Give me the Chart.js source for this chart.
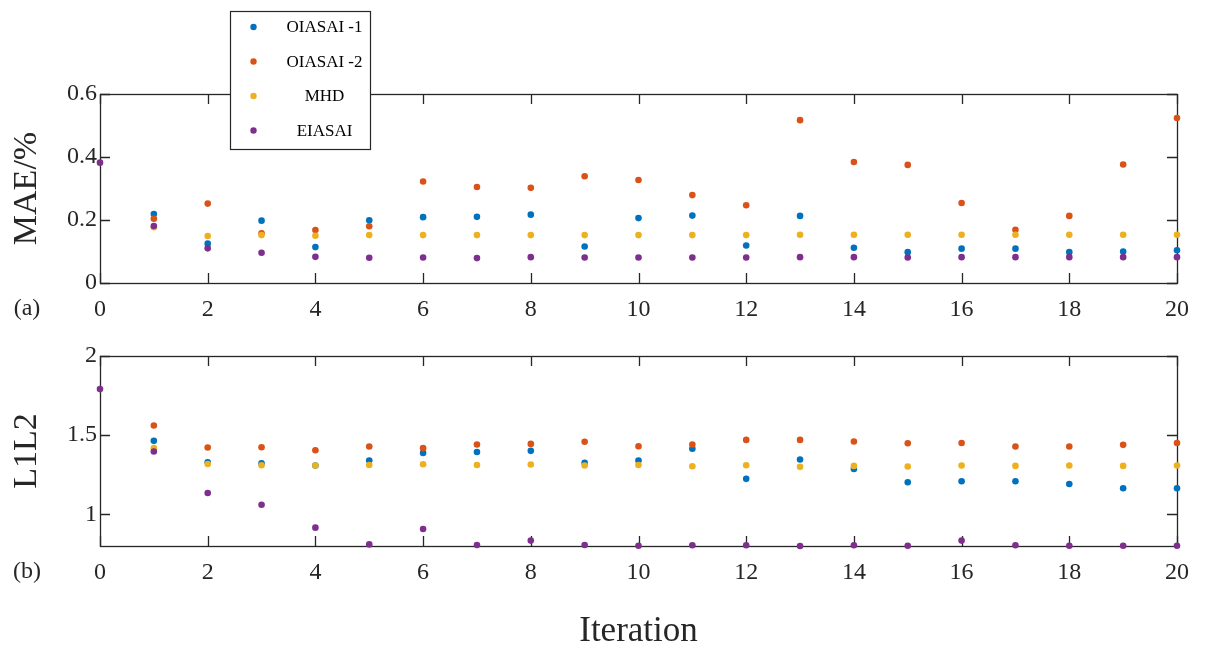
<!DOCTYPE html>
<html>
<head>
<meta charset="utf-8">
<script src="https://cdn.jsdelivr.net/npm/chart.js@4/dist/chart.umd.min.js"></script>
<style>
  html, body { margin: 0; padding: 0; background: #fff; overflow: hidden; }
  #wrap { position: relative; width: 1210px; height: 650px; }
  canvas { position: absolute; left: 0; top: 0; }
</style>
</head>
<body>
<div id="wrap">
  <canvas id="mae" width="1210" height="650"></canvas>
  <canvas id="l1l2" width="1210" height="650"></canvas>
</div>
<script>
// ---- data ----
const iterations = [0, 1, 2, 3, 4, 5, 6, 7, 8, 9, 10, 11, 12, 13, 14, 15, 16, 17, 18, 19, 20];
const seriesNames = ['OIASAI -1', 'OIASAI -2', 'MHD', 'EIASAI'];
const seriesColors = ['#0072BD', '#D95319', '#EDB120', '#7E2F8E'];

// MAE (%) per iteration
const maeOIASAI1 = [null, 0.219, 0.125, 0.198, 0.114, 0.199, 0.209, 0.210, 0.217, 0.116, 0.206, 0.214, 0.119, 0.213, 0.112, 0.098, 0.109, 0.109, 0.098, 0.100, 0.104];
const maeOIASAI2 = [null, 0.204, 0.252, 0.158, 0.168, 0.180, 0.322, 0.305, 0.302, 0.339, 0.327, 0.279, 0.247, 0.517, 0.384, 0.375, 0.254, 0.169, 0.213, 0.376, 0.524];
const maeMHD     = [null, 0.177, 0.149, 0.152, 0.150, 0.152, 0.152, 0.152, 0.152, 0.152, 0.152, 0.152, 0.152, 0.153, 0.153, 0.153, 0.153, 0.153, 0.153, 0.153, 0.153];
const maeEIASAI  = [0.382, 0.181, 0.110, 0.096, 0.083, 0.080, 0.081, 0.079, 0.082, 0.081, 0.081, 0.081, 0.081, 0.082, 0.082, 0.081, 0.082, 0.082, 0.082, 0.082, 0.082];

// L1L2 per iteration
const l1l2OIASAI1 = [null, 1.464, 1.329, 1.323, 1.308, 1.340, 1.388, 1.394, 1.401, 1.325, 1.340, 1.414, 1.224, 1.346, 1.287, 1.203, 1.209, 1.209, 1.192, 1.165, 1.165];
const l1l2OIASAI2 = [null, 1.561, 1.422, 1.424, 1.405, 1.428, 1.418, 1.441, 1.445, 1.458, 1.430, 1.441, 1.470, 1.470, 1.460, 1.449, 1.451, 1.428, 1.428, 1.439, 1.451];
const l1l2MHD     = [null, 1.418, 1.318, 1.310, 1.308, 1.312, 1.316, 1.312, 1.315, 1.308, 1.312, 1.304, 1.310, 1.300, 1.306, 1.302, 1.308, 1.306, 1.308, 1.306, 1.308];
const l1l2EIASAI  = [1.791, 1.397, 1.135, 1.061, 0.916, 0.810, 0.907, 0.806, 0.834, 0.806, 0.802, 0.805, 0.805, 0.800, 0.805, 0.802, 0.834, 0.805, 0.802, 0.802, 0.802];

// tick labels
const xTicks = [0, 2, 4, 6, 8, 10, 12, 14, 16, 18, 20];
const maeTicks = [0, 0.2, 0.4, 0.6];
const l1l2Ticks = [1, 1.5, 2];

// ---- styling ----
const FONT = '"Liberation Serif", "Times New Roman", serif';
const INK = '#262626';
const TICK_LEN = 10;

function makeDatasets(seriesList) {
  return seriesList.map((vals, i) => ({
    label: seriesNames[i],
    data: iterations.map((x, k) => ({ x: x, y: vals[k] })).filter(p => p.y !== null),
    backgroundColor: seriesColors[i],
    borderColor: seriesColors[i],
    pointRadius: 3.3,
    pointHoverRadius: 3.3,
    pointBorderWidth: 0,
    showLine: false,
    clip: false,
    order: seriesList.length - 1 - i
  }));
}

// Box frame with inward ticks on all four sides, drawn beneath the markers
const framePlugin = {
  id: 'frame',
  beforeDatasetsDraw(chart, args, opts) {
    const { ctx, chartArea: a, scales } = chart;
    const xs = scales.x, ys = scales.y;
    ctx.save();
    ctx.strokeStyle = INK;
    ctx.lineWidth = 1.3;
    ctx.beginPath();
    for (const t of xs.ticks) {
      const px = Math.round(xs.getPixelForValue(t.value)) + 0.5;
      ctx.moveTo(px, a.bottom); ctx.lineTo(px, a.bottom - TICK_LEN);
      ctx.moveTo(px, a.top); ctx.lineTo(px, a.top + TICK_LEN);
    }
    for (const t of ys.ticks) {
      const py = Math.round(ys.getPixelForValue(t.value)) + 0.5;
      ctx.moveTo(a.left, py); ctx.lineTo(a.left + TICK_LEN, py);
      ctx.moveTo(a.right, py); ctx.lineTo(a.right - TICK_LEN, py);
    }
    ctx.stroke();
    ctx.strokeRect(Math.round(a.left) + 0.5, Math.round(a.top) + 0.5,
                   Math.round(a.right - a.left), Math.round(a.bottom - a.top));
    ctx.restore();
  },
  afterDraw(chart, args, opts) {
    const { ctx, chartArea: a } = chart;
    ctx.save();
    // panel tag
    ctx.fillStyle = INK;
    ctx.font = '24px ' + FONT;
    ctx.textAlign = 'center';
    ctx.textBaseline = 'middle';
    ctx.fillText(opts.tag, 27, a.bottom + 26);
    // legend box
    if (opts.legend) {
      const L = opts.legend;
      ctx.fillStyle = '#fff';
      ctx.fillRect(L.x, L.y, L.w, L.h);
      ctx.strokeStyle = INK;
      ctx.lineWidth = 1.2;
      ctx.strokeRect(L.x + 0.5, L.y + 0.5, L.w, L.h);
      ctx.font = '17px ' + FONT;
      chart.data.datasets.forEach((ds, i) => {
        const cy = L.y + 16 + i * 34.5;
        ctx.fillStyle = ds.backgroundColor;
        ctx.beginPath();
        ctx.arc(L.x + 23.5, cy, 3.2, 0, Math.PI * 2);
        ctx.fill();
        ctx.fillStyle = '#000';
        ctx.fillText(ds.label, L.x + 94.5, cy + 1);
      });
    }
    ctx.restore();
  }
};

function makeChart(id, cfg) {
  return new Chart(document.getElementById(id), {
    type: 'scatter',
    data: { datasets: makeDatasets(cfg.series) },
    options: {
      responsive: false,
      animation: false,
      devicePixelRatio: 1,
      events: [],
      layout: { padding: cfg.padding },
      plugins: {
        legend: { display: false },
        tooltip: { enabled: false },
        frame: { tag: cfg.tag, legend: cfg.legend }
      },
      scales: {
        x: {
          type: 'linear',
          min: 0, max: 20,
          afterBuildTicks: s => { s.ticks = xTicks.map(v => ({ value: v })); },
          afterFit: s => { s.height = cfg.xHeight; },
          grid: { display: false, drawTicks: false },
          border: { display: false },
          ticks: { color: INK, font: { family: FONT, size: 24 }, padding: 12, maxRotation: 0, callback: v => String(v) },
          title: cfg.xTitle ? {
            display: true, text: cfg.xTitle, color: INK,
            font: { family: FONT, size: 35, lineHeight: 1 },
            padding: { top: 0, bottom: 1 }
          } : { display: false }
        },
        y: {
          type: 'linear',
          min: cfg.yMin, max: cfg.yMax,
          afterBuildTicks: s => { s.ticks = cfg.yTicks.map(v => ({ value: v })); },
          afterFit: s => { s.width = 100; },
          grid: { display: false, drawTicks: false },
          border: { display: false },
          ticks: { color: INK, font: { family: FONT, size: 24 }, padding: 3, callback: v => String(v) },
          title: {
            display: true, text: cfg.yTitle, color: INK,
            font: { family: FONT, size: 34, lineHeight: 1 },
            padding: { top: 10, bottom: 0 }
          }
        }
      }
    },
    plugins: [framePlugin]
  });
}

// (a) MAE panel
makeChart('mae', {
  series: [maeOIASAI1, maeOIASAI2, maeMHD, maeEIASAI],
  yMin: 0, yMax: 0.6, yTicks: maeTicks,
  yTitle: 'MAE/%',
  padding: { top: 94, left: 0, right: 33, bottom: 327 },
  xHeight: 40,
  tag: '(a)',
  legend: { x: 230, y: 11, w: 140, h: 138 }
});

// (b) L1L2 panel
makeChart('l1l2', {
  series: [l1l2OIASAI1, l1l2OIASAI2, l1l2MHD, l1l2EIASAI],
  yMin: 0.8, yMax: 2, yTicks: l1l2Ticks,
  yTitle: 'L1L2',
  xTitle: 'Iteration',
  padding: { top: 356, left: 0, right: 33, bottom: 0 },
  xHeight: 104,
  tag: '(b)'
});
</script>
</body>
</html>
